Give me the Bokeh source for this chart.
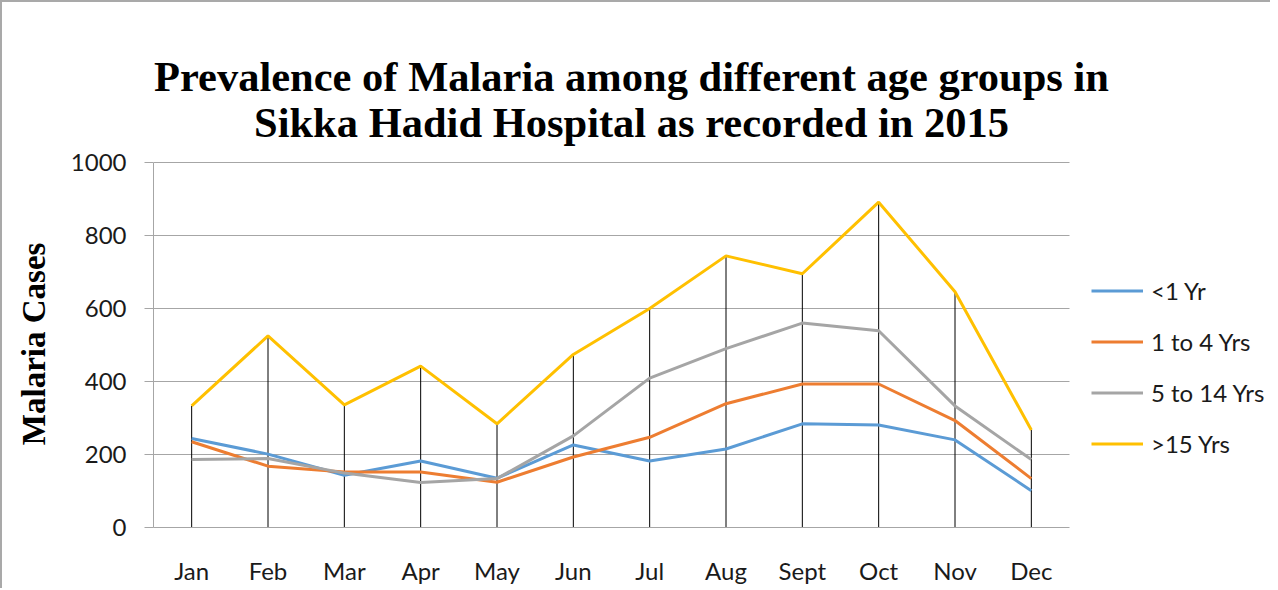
from bokeh.plotting import figure
from bokeh.models import Label, Legend, LegendItem, FixedTicker, Range1d, BoxAnnotation
from bokeh.embed import file_html
from bokeh.resources import INLINE

months = ["Jan", "Feb", "Mar", "Apr", "May", "Jun", "Jul", "Aug", "Sept", "Oct", "Nov", "Dec"]
under_1 = [244, 201, 143, 182, 135, 226, 182, 215, 284, 281, 240, 101]
age_1_4 = [235, 168, 152, 152, 124, 193, 247, 339, 393, 393, 293, 134]
age_5_14 = [186, 189, 149, 123, 134, 251, 409, 490, 560, 539, 333, 186]
over_15 = [333, 525, 336, 442, 284, 474, 600, 744, 695, 891, 646, 267]
series_names = ["<1 Yr", "1 to 4 Yrs", "5 to 14 Yrs", ">15 Yrs"]
y_ticks = [0, 200, 400, 600, 800, 1000]
title_lines = ["Prevalence of Malaria among different age groups in",
               "Sikka Hadid Hospital as recorded in 2015"]
y_label = "Malaria Cases"

colors = ["#5B9BD5", "#ED7D31", "#A5A5A5", "#FFC000"]
grid_color = "#a6a6a6"

# layout in pixels: the frame holds the title (top) and the legend (right) areas too
fig_w, fig_h = 1270, 588
border_left, border_top, border_bottom = 151, 1, 63
plot_px_w = 916          # width of the month area
plot_px_h = 363          # height of the 0..1000 value area
frame_h = fig_h - 3 - border_top - border_bottom
frame_w = fig_w - border_left

x_idx = list(range(len(months)))
x_start = -0.5
x_end_data = len(months) - 0.5
x_end = x_start + frame_w * len(months) / plot_px_w
y_max = y_ticks[-1]
y_end = frame_h * y_max / plot_px_h

p = figure(x_range=Range1d(x_start, x_end), y_range=Range1d(0, y_end), width=fig_w, height=fig_h,
           output_backend="svg", toolbar_location=None,
           min_border_left=border_left, min_border_right=0,
           min_border_top=border_top, min_border_bottom=border_bottom)
p.styles = {"border-top": "2px solid #a9a9a9", "border-left": "2px solid #a9a9a9"}
p.outline_line_color = None
p.xgrid.grid_line_color = None
p.ygrid.grid_line_color = grid_color
p.ygrid.grid_line_width = 1

# blank out gridlines over the legend area
p.add_layout(BoxAnnotation(left=x_end_data, fill_color="white", fill_alpha=1,
                           line_alpha=0, level="underlay"))

p.yaxis.ticker = FixedTicker(ticks=y_ticks)
p.yaxis.bounds = (0, y_max)
p.yaxis.major_tick_out = 9
p.yaxis.major_tick_in = 0
p.yaxis.minor_tick_line_color = None
p.yaxis.major_tick_line_color = grid_color
p.yaxis.axis_line_color = grid_color
p.yaxis.major_label_standoff = 18
p.yaxis.major_label_text_font = "Lato"
p.yaxis.major_label_text_font_size = "24px"
p.yaxis.major_label_text_color = "#1a1a1a"
# trailing no-break spaces move the centred label down to the middle of the 0..1000 span
p.yaxis.axis_label = y_label + "\u00a0" * 19
p.yaxis.axis_label_text_font = "Liberation Serif"
p.yaxis.axis_label_text_font_style = "bold"
p.yaxis.axis_label_text_font_size = "33px"
p.yaxis.axis_label_text_color = "#000000"
p.yaxis.axis_label_standoff = 16

p.xaxis.ticker = FixedTicker(ticks=x_idx)
p.xaxis.major_label_overrides = {i: m for i, m in zip(x_idx, months)}
p.xaxis.bounds = (x_start, x_end_data)
p.xaxis.major_tick_out = 0
p.xaxis.major_tick_in = 0
p.xaxis.minor_tick_line_color = None
p.xaxis.major_tick_line_color = None
p.xaxis.axis_line_color = grid_color
p.xaxis.major_label_standoff = 28
p.xaxis.major_label_text_font = "Lato"
p.xaxis.major_label_text_font_size = "24px"
p.xaxis.major_label_text_color = "#1a1a1a"

# high-low drop lines from 0 to the monthly maximum
all_series = [under_1, age_1_4, age_5_14, over_15]
highs = [max(vals) for vals in zip(*all_series)]
p.segment(x0=x_idx, y0=[0] * len(x_idx), x1=x_idx, y1=highs, line_color="#000000", line_width=1)

items = []
for name, vals, c in zip(series_names, all_series, colors):
    r = p.line(x_idx, vals, line_color=c, line_width=3)
    items.append(LegendItem(label=name, renderers=[r]))

legend = Legend(items=items, location=(938, 69), orientation="vertical",
                padding=0, margin=0, spacing=22, glyph_width=52, glyph_height=29,
                label_height=29, label_standoff=8,
                label_text_font="Lato", label_text_font_size="24px", label_text_color="#1a1a1a",
                border_line_alpha=0, background_fill_alpha=0)
p.add_layout(legend)

for line, ypos in zip(title_lines, [451, 405]):
    p.add_layout(Label(x=478, y=ypos, x_units="screen", y_units="screen", text=line,
                       text_font="Liberation Serif", text_font_style="bold",
                       text_font_size="42.5px", text_align="center",
                       text_baseline="alphabetic", text_color="#000000"))

open("out.html", "w").write(file_html(p, INLINE))
